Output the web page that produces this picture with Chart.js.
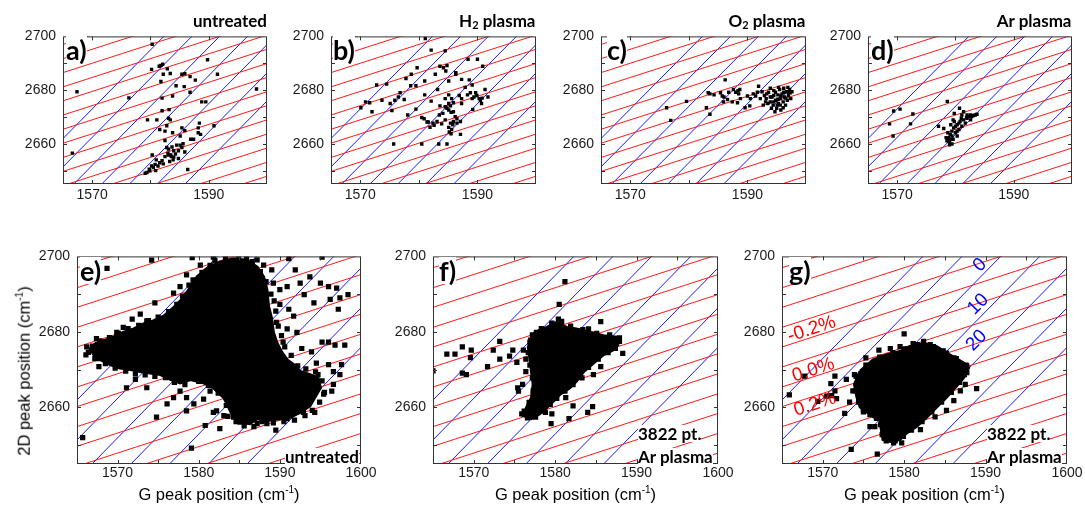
<!DOCTYPE html>
<html>
<head>
<meta charset="utf-8">
<script src="https://cdn.jsdelivr.net/npm/chart.js@4.4.1/dist/chart.umd.min.js"></script>
<style>
body { margin: 0; background: #fff; width: 1085px; height: 508px; position: relative; overflow: hidden; font-family: "Liberation Sans", Arial, sans-serif; }
canvas { position: absolute; }
.txt { position: absolute; white-space: nowrap; line-height: 1; color: #000; }
.bold { font-family: Lato, "Open Sans", sans-serif; font-weight: 700; }
.letter { font-size: 27px; background: #fff; }
.title { font-size: 17px; }
.note { font-size: 17px; background: #fff; }
.axis { font-size: 16.5px; }
sub { font-size: 11px; vertical-align: -2px; line-height: 0; }
sup { font-size: 10px; vertical-align: 7px; line-height: 0; }
</style>
</head>
<body>
<script>
// Strain / doping grid: red = iso-strain lines, blue = iso-doping lines
const redSlope = 0.7;
const redStrainAt1565 = [2697.0, 2691.7, 2686.5, 2681.2, 2676.0, 2670.7, 2665.4, 2660.2, 2654.9, 2649.7, 2644.4, 2639.1, 2633.9, 2628.6, 2623.4];
const blueSlope = 2.2;
const blueDopingAt2645 = [1557.3, 1562.1, 1566.85, 1571.65, 1576.4, 1581.2, 1585.95];

// Axis ticks
const gRange = [1565, 1600];
const dRange = [2645, 2700];
const topXLabels = [1570, 1590];
const topXMarks = [1570, 1580, 1590];
const bottomXLabels = [1570, 1580, 1590, 1600];
const bottomXMarks = [1570, 1575, 1580, 1585, 1590, 1595];
const yLabels = [2660, 2680, 2700];
const yMarks = [2650, 2660, 2670, 2680, 2690];

// Labels on the grid of panel g)
const strainLabels = ['-0.2%', '0.0%', '0.2%'];
const strainLabelG = [1568.65, 1568.85, 1569.05];
const strainLabel2D = [2680.7, 2669.9, 2660.8];
const dopingLabels = ['0', '10', '20'];
const dopingLabelG = [1589.3, 1589.1, 1588.9];
const dopingLabel2D = [2697.7, 2687.3, 2677.7];

// a) untreated  [G, 2D]
const ptsA = [[1580.3,2697.1],[1566.6,2656.5],[1567.4,2679.4],[1576.3,2677.1],[1580.2,2687.7],[1581.5,2688.9],[1581.8,2689.2],[1582.1,2689.6],[1582.9,2687.9],[1583.4,2686.2],[1582.2,2685.9],[1581.8,2683.2],[1582.0,2677.0],[1583.8,2677.8],[1584.4,2681.6],[1585.4,2685.9],[1585.9,2686.1],[1586.8,2685.0],[1587.7,2683.7],[1585.8,2681.3],[1586.8,2679.2],[1589.8,2691.3],[1591.5,2685.9],[1588.8,2675.6],[1589.5,2675.6],[1598.2,2680.4],[1590.9,2666.7],[1582.0,2672.3],[1583.2,2672.7],[1581.1,2668.9],[1579.5,2668.9],[1583.1,2669.5],[1583.4,2668.9],[1581.6,2665.3],[1582.5,2664.7],[1582.8,2666.7],[1583.8,2664.1],[1585.1,2662.9],[1585.4,2665.9],[1585.9,2664.9],[1586.9,2661.7],[1587.4,2661.7],[1588.2,2664.1],[1588.2,2665.9],[1588.4,2667.7],[1588.6,2663.5],
  [1582.5,2661.2],[1582.8,2658.6],[1583.1,2658.0],[1583.7,2658.8],[1584.0,2657.4],[1584.3,2656.2],[1584.5,2659.5],[1585.1,2659.5],[1585.4,2658.6],[1585.6,2660.0],[1584.8,2657.4],[1585.9,2656.9],[1584.0,2655.0],[1583.5,2655.8],[1583.0,2656.5],
  [1580.3,2655.8],[1581.0,2654.0],[1581.6,2652.9],[1580.8,2652.3],[1580.2,2651.7],[1579.8,2650.5],[1579.4,2649.3],[1579.9,2649.9],[1580.5,2651.1],[1581.3,2651.7],[1582.0,2653.7],[1582.5,2655.2],[1583.1,2655.8],[1583.6,2655.2],[1583.9,2654.0],[1583.3,2653.4],[1586.4,2650.4],[1579.1,2649.0],[1580.9,2650.0],[1582.2,2652.5],[1584.8,2654.5]];

// b) H2 plasma
const ptsB = [[1581.1,2699.2],[1579.7,2688.3],[1582.1,2694.9],[1584.5,2694.6],[1588.4,2691.5],[1590.0,2691.5],[1590.9,2688.9],[1583.6,2688.9],[1584.2,2688.3],[1584.8,2689.1],[1584.6,2687.1],[1582.8,2685.9],[1586.3,2685.9],[1586.3,2686.5],[1587.3,2684.0],[1585.1,2683.4],[1581.0,2683.4],[1578.7,2685.9],[1577.8,2684.3],[1578.6,2681.6],[1579.5,2681.6],[1574.5,2682.2],[1572.8,2681.9],[1576.8,2679.0],[1576.5,2677.4],[1577.5,2676.5],[1581.0,2678.2],[1582.1,2675.9],[1583.2,2680.2],[1584.5,2676.8],[1585.1,2678.2],[1585.6,2676.8],[1585.9,2675.3],[1586.9,2678.0],[1587.3,2676.8],[1588.3,2678.2],[1588.8,2679.0],[1589.1,2676.8],[1589.4,2677.4],[1589.7,2679.0],[1589.9,2678.0],[1590.3,2676.8],[1590.5,2676.2],[1590.8,2677.0],[1591.3,2680.2],[1591.8,2677.4],[1590.7,2675.0],[1589.2,2672.8],[1588.6,2683.8],[1589.1,2681.9],[1587.9,2681.0],[1587.3,2675.0],[1570.9,2675.6],[1570.1,2673.4],[1571.6,2675.3],[1572.0,2671.9],[1573.7,2676.2],[1575.9,2676.2],[1575.1,2675.0],[1575.4,2672.4],[1578.1,2670.7],[1579.5,2672.9],
  [1580.5,2669.8],[1580.9,2669.3],[1581.4,2668.1],[1581.6,2668.1],[1582.4,2667.7],[1582.6,2666.9],[1581.9,2666.1],[1583.1,2668.3],[1583.5,2670.7],[1584.1,2671.3],[1583.6,2674.1],[1584.5,2673.8],[1584.8,2673.2],[1585.1,2672.6],[1585.4,2674.1],[1585.1,2675.0],[1585.5,2671.7],[1585.9,2671.9],[1586.2,2670.1],[1586.5,2669.3],[1585.9,2668.3],[1585.4,2667.7],[1585.1,2666.1],[1585.6,2665.3],[1585.2,2664.4],[1585.5,2663.7],[1586.5,2667.7],[1587.1,2668.3],[1585.8,2667.1],[1584.5,2668.9],[1583.9,2667.4],
  [1575.7,2659.9],[1580.5,2659.9],[1583.4,2659.9],[1584.8,2659.9],[1587.1,2663.5]];

// c) O2 plasma
const ptsC = [[1576.2,2673.4],[1576.9,2668.7],[1579.6,2675.8],[1583.0,2673.4],[1583.6,2671.0],[1583.3,2679.0],[1583.6,2678.6],[1584.3,2678.2],[1586.2,2683.8],
  [1585.4,2679.0],[1585.7,2677.8],[1586.0,2677.4],[1585.9,2675.6],[1586.6,2676.5],[1586.8,2679.2],[1587.6,2680.2],[1588.0,2679.2],[1588.4,2679.8],[1588.7,2680.2],[1588.5,2678.6],[1587.4,2675.6],[1588.3,2675.3],[1588.8,2676.8],[1589.6,2673.4],[1590.4,2674.1],[1590.5,2676.8],[1590.0,2677.8],[1591.0,2678.6],[1591.4,2677.8],[1591.9,2681.4],[1591.7,2679.2],
  [1592.5,2679.4],[1592.9,2678.0],[1593.2,2676.8],[1593.6,2679.2],[1593.9,2675.6],[1594.2,2677.4],[1594.4,2674.4],[1594.5,2679.8],[1594.8,2676.2],[1595.0,2673.2],[1595.2,2678.2],[1595.3,2675.0],[1595.5,2680.2],[1595.6,2676.8],[1595.7,2672.6],[1595.9,2678.6],[1596.1,2675.6],[1596.2,2680.7],[1596.3,2677.4],[1596.5,2674.4],[1596.7,2679.4],[1596.8,2676.2],[1596.9,2681.0],[1597.0,2678.0],[1597.2,2680.2],[1597.3,2679.0],[1597.4,2676.8],[1597.6,2679.4],[1593.5,2675.0],[1594.1,2673.2],[1594.7,2671.9],[1595.1,2674.4],[1593.9,2680.7],[1593.1,2675.6],[1592.2,2676.8],[1592.7,2674.4],[1594.5,2678.0],[1596.1,2673.4],[1595.3,2681.0],
  [1594.8,2679.2],[1595.2,2676.6],[1595.7,2677.8],[1596.5,2677.0],[1597.0,2679.2],[1593.9,2677.4],[1594.5,2675.6],[1595.6,2674.4],[1596.2,2679.2],[1593.3,2678.6]];

// d) Ar plasma
const ptsD = [[1568.7,2667.4],[1569.4,2672.2],[1570.5,2672.9],[1569.3,2662.9],[1572.3,2667.4],[1572.7,2671.1],[1577.1,2666.5],[1578.6,2675.8],[1578.0,2665.7],
  [1578.55,2661.1],[1578.8,2662.3],[1579.1,2663.5],[1579.0,2660.5],[1579.4,2664.7],[1579.7,2665.9],[1579.6,2661.7],[1580.0,2664.1],[1580.3,2667.1],[1580.6,2665.3],[1580.3,2662.9],[1580.8,2668.3],[1581.1,2666.5],[1581.4,2668.9],[1581.7,2667.7],[1582.0,2669.5],[1582.3,2670.1],[1582.6,2668.9],[1582.8,2670.1],[1583.1,2670.5],[1583.4,2670.7],[1583.7,2671.0],[1579.8,2671.3],[1580.7,2673.2],[1581.4,2671.9],[1582.0,2670.7],[1581.1,2670.7],[1579.6,2668.9],[1579.2,2667.1],[1578.7,2664.1],[1578.4,2662.3],[1579.0,2659.6],[1579.4,2659.9],[1581.0,2669.5],[1581.9,2669.8],[1582.6,2670.7],[1579.8,2668.3],
  [1579.1,2661.7],[1580.0,2666.5],[1580.6,2667.7],[1578.8,2661.1],[1580.3,2664.7],[1579.4,2662.9]];

// e) untreated map: dense core outline, its ragged edge, scattered points
const blobE = [[1578.5,2690.3],[1579.8,2694.6],[1581.0,2696.8],[1582.6,2698.5],[1584.3,2699.4],[1585.9,2699.0],[1587.2,2697.2],[1588.0,2694.6],[1588.4,2691.2],[1588.6,2686.8],[1589.0,2683.4],[1589.2,2679.9],[1589.6,2677.3],[1590.2,2674.7],[1590.9,2672.6],[1591.7,2671.3],[1592.5,2669.5],[1593.7,2668.7],[1594.7,2667.8],[1595.0,2665.2],[1594.3,2662.6],[1593.7,2660.4],[1592.5,2658.7],[1591.3,2657.4],[1590.0,2657.0],[1588.4,2656.5],[1587.2,2657.0],[1586.3,2655.7],[1585.1,2656.1],[1584.3,2657.4],[1583.9,2659.1],[1583.1,2662.6],[1581.8,2665.2],[1580.6,2666.5],[1579.0,2667.4],[1577.7,2666.5],[1576.5,2667.4],[1575.3,2668.7],[1574.0,2669.1],[1572.8,2669.5],[1571.6,2670.0],[1570.3,2670.4],[1569.1,2671.3],[1567.9,2672.6],[1567.1,2673.9],[1566.6,2675.6],[1567.3,2676.9],[1568.3,2677.7],[1569.5,2678.6],[1570.7,2679.9],[1572.0,2680.8],[1573.2,2682.1],[1574.4,2682.9],[1575.7,2684.2],[1576.9,2686.4],[1577.9,2688.6]];
const edgeE = [[1578.0,2689.5],[1578.8,2692.4],[1579.3,2693.8],[1580.4,2695.8],[1581.4,2697.6],[1582.0,2698.9],[1583.3,2699.6],[1584.9,2699.7],[1586.6,2698.6],[1587.6,2696.0],[1588.3,2693.3],[1588.9,2690.0],[1589.3,2688.2],[1589.5,2685.5],[1589.8,2681.5],[1590.2,2679.0],[1590.6,2676.0],[1591.4,2673.8],[1592.2,2671.0],[1593.2,2670.2],[1594.4,2669.4],[1595.2,2667.0],[1595.5,2664.0],[1594.9,2661.4],[1594.0,2659.2],[1593.1,2657.8],[1591.8,2656.6],[1590.5,2656.2],[1589.2,2655.9],[1587.8,2656.2],[1586.8,2654.9],[1585.6,2655.1],[1584.6,2656.2],[1583.6,2657.6],[1583.4,2660.5],[1582.4,2663.8],[1581.2,2665.8],[1580.0,2666.9],[1578.3,2666.0],[1577.0,2666.6],[1575.9,2667.9],[1574.6,2668.2],[1573.4,2668.6],[1572.2,2668.9],[1571.0,2669.6],[1569.7,2670.4],[1568.5,2671.6],[1567.5,2672.9],[1566.4,2674.6],[1566.9,2676.2],[1567.8,2677.6],[1569.0,2678.5],[1570.1,2679.6],[1571.3,2680.9],[1572.6,2681.7],[1573.8,2683.0],[1575.0,2683.9],[1576.3,2685.4],[1577.3,2687.3]];
const ptsE = [[1565.7,2652.0],[1579.1,2649.2],[1589.5,2654.0],[1580.8,2655.2],[1566.1,2673.9],[1566.2,2676.0],[1567.2,2673.0],[1567.7,2670.8],[1567.4,2678.2],[1568.3,2677.3],[1569.9,2679.9],[1570.7,2681.2],[1571.8,2683.4],[1572.8,2684.7],[1573.6,2682.9],[1574.6,2687.7],[1574.2,2699.0],[1568.7,2696.8],[1571.1,2665.2],[1572.2,2667.4],[1573.6,2665.2],[1574.8,2657.4],[1576.1,2660.9],[1576.9,2662.6],[1577.7,2664.3],[1578.5,2662.6],[1579.4,2660.9],[1578.5,2659.1],[1580.6,2662.2],[1581.4,2664.3],[1582.2,2659.1],
  [1576.9,2690.3],[1577.7,2692.0],[1578.5,2695.1],[1579.2,2699.7],[1580.2,2697.7],[1581.8,2699.8],[1585.9,2699.7],[1587.2,2699.1],[1588.0,2697.7],[1589.0,2696.4],[1589.2,2692.9],[1590.0,2691.2],[1590.9,2692.0],[1591.1,2699.4],[1591.9,2696.4],[1592.5,2692.9],[1593.0,2689.9],[1593.7,2694.6],[1594.2,2687.7],[1595.0,2692.9],[1595.2,2699.8],[1596.0,2692.0],[1596.2,2688.6],[1597.0,2691.6],[1597.2,2686.0],[1597.4,2689.0],[1598.4,2689.9],[1591.1,2686.0],[1591.7,2684.2],[1590.9,2680.8],[1592.1,2679.9],[1592.7,2675.6],[1595.2,2677.3],[1596.0,2677.3],[1596.8,2676.5],[1598.0,2676.5],[1596.0,2671.3],[1596.6,2669.5],[1597.6,2671.3],[1597.4,2668.7],[1596.6,2666.1],[1595.4,2663.5],[1596.4,2664.3],[1594.3,2658.7],[1592.9,2658.7],[1590.9,2657.0],[1591.5,2661.3],[1590.0,2660.0],[1588.4,2655.7],[1587.2,2655.7],[1585.1,2656.1],[1584.3,2657.4],[1583.1,2657.8],[1582.6,2654.4],[1583.9,2660.9],[1581.8,2658.7],[1594.5,2671.7],[1593.9,2674.7],[1594.7,2668.7],[1589.6,2682.5],[1590.4,2677.3],[1590.0,2687.3]];

// f) Ar plasma map
const blobF = [[1577.5,2679.9],[1579.0,2681.2],[1580.2,2682.5],[1581.4,2681.2],[1582.6,2680.8],[1584.3,2679.9],[1585.9,2679.0],[1587.5,2678.6],[1587.7,2676.5],[1587.1,2675.2],[1585.9,2673.9],[1584.7,2671.7],[1583.5,2669.5],[1582.6,2666.9],[1581.8,2665.2],[1580.6,2663.5],[1579.8,2661.7],[1579.0,2660.0],[1578.1,2658.3],[1577.1,2657.0],[1576.1,2657.8],[1576.5,2660.0],[1577.1,2662.6],[1577.3,2666.1],[1577.1,2669.5],[1576.9,2673.0],[1576.7,2676.0]];
const edgeF = [[1577.2,2679.2],[1578.3,2680.9],[1579.6,2682.0],[1580.8,2682.8],[1581.9,2681.5],[1583.4,2680.6],[1585.1,2679.6],[1586.7,2679.2],[1587.9,2677.5],[1587.4,2675.6],[1586.5,2674.5],[1585.3,2672.8],[1584.1,2670.6],[1583.0,2668.1],[1582.2,2666.0],[1581.2,2664.3],[1580.2,2662.4],[1579.4,2660.8],[1578.6,2659.1],[1577.6,2657.4],[1576.6,2657.2],[1576.2,2659.0],[1576.8,2661.3],[1577.3,2664.4],[1577.2,2667.8],[1576.9,2671.2],[1576.7,2674.5],[1577.0,2677.8]];
const ptsF = [[1565.0,2669.7],[1566.7,2674.1],[1567.7,2674.1],[1568.6,2676.0],[1568.6,2669.1],[1569.1,2668.7],[1569.7,2675.2],[1569.6,2673.2],[1571.7,2670.8],[1572.4,2675.2],[1573.2,2677.5],[1573.2,2672.8],[1574.4,2673.6],[1574.8,2675.2],[1575.3,2671.9],[1575.4,2665.2],[1575.5,2664.3],[1576.0,2666.1],[1576.1,2675.2],[1576.4,2672.8],[1576.4,2669.5],[1575.9,2658.3],[1576.9,2677.3],[1577.7,2679.9],[1581.2,2693.3],[1580.5,2687.3],[1579.6,2658.3],[1579.5,2655.7],[1582.2,2660.4],[1581.7,2657.0],[1584.0,2658.7],[1584.6,2660.2],[1585.6,2682.7],[1584.1,2680.8],[1585.6,2670.8],[1588.3,2674.3],[1586.9,2677.7],[1587.9,2678.4],[1584.7,2668.7],[1583.3,2667.8],[1581.3,2662.6],[1578.8,2658.7],[1577.5,2657.8],[1576.7,2657.8],[1580.4,2683.4],[1579.6,2682.3]];

// g) Ar plasma map (same data, with grid labels)
const blobG = [[1574.6,2669.6],[1576.2,2672.6],[1577.8,2673.9],[1579.5,2674.8],[1580.7,2676.1],[1582.4,2676.9],[1584.0,2676.1],[1585.6,2673.9],[1587.3,2671.8],[1587.9,2670.5],[1587.3,2667.9],[1586.3,2665.3],[1585.2,2662.7],[1584.0,2660.1],[1582.8,2657.5],[1581.5,2654.9],[1580.3,2653.2],[1579.5,2651.5],[1578.3,2651.0],[1577.4,2651.5],[1577.2,2654.1],[1577.0,2656.7],[1576.2,2657.5],[1575.4,2658.8],[1574.6,2660.1],[1574.2,2662.7],[1573.9,2666.1]];
const edgeG = [[1574.1,2668.2],[1575.3,2671.2],[1577.0,2673.3],[1578.6,2674.5],[1580.1,2675.5],[1581.6,2676.6],[1583.2,2676.6],[1584.8,2675.0],[1586.4,2672.9],[1587.6,2671.2],[1587.7,2669.2],[1586.8,2666.6],[1585.8,2664.0],[1584.6,2661.4],[1583.4,2658.8],[1582.2,2656.2],[1580.9,2654.0],[1579.9,2652.3],[1578.9,2651.1],[1577.8,2651.1],[1577.3,2652.8],[1577.1,2655.4],[1576.6,2657.1],[1575.8,2658.1],[1575.0,2659.4],[1574.4,2661.4],[1574.0,2664.4]];
const ptsG = [[1565.9,2663.3],[1567.8,2668.3],[1569.4,2661.6],[1570.5,2663.0],[1571.0,2666.3],[1571.1,2663.1],[1571.5,2664.4],[1571.5,2668.3],[1571.7,2662.3],[1572.7,2658.4],[1573.5,2648.9],[1573.9,2668.7],[1572.9,2667.4],[1573.3,2661.4],[1573.7,2664.4],[1575.0,2658.8],[1575.3,2673.1],[1575.8,2654.9],[1576.4,2654.9],[1576.7,2647.6],[1576.9,2675.2],[1578.3,2675.6],[1579.5,2676.1],[1580.0,2679.5],[1581.1,2676.9],[1582.4,2677.5],[1583.6,2676.1],[1585.2,2674.4],[1586.1,2673.1],[1586.5,2671.8],[1587.7,2670.9],[1587.4,2668.7],[1588.9,2665.0],[1587.5,2666.1],[1586.9,2664.4],[1586.1,2661.8],[1585.2,2659.2],[1583.8,2657.5],[1582.0,2654.1],[1580.7,2654.9],[1577.8,2652.3],[1578.7,2650.6],[1579.7,2650.6],[1576.6,2666.6],[1576.0,2664.4],[1575.0,2665.3],[1574.6,2662.7],[1575.4,2661.0]];

const tickFont = { family: '"Liberation Sans", Arial, sans-serif', size: 14 };

// inward tick marks, box and the rotated grid labels
const framePlugin = {
    id: 'frame',
    afterDatasetsDraw(chart, args, opts) {
        const { ctx, chartArea: a, scales: { x, y } } = chart;
        ctx.save();
        ctx.strokeStyle = '#333';
        ctx.lineWidth = 1;
        ctx.strokeRect(a.left + 0.5, a.top + 0.5, a.right - a.left - 1, a.bottom - a.top - 1);
        ctx.beginPath();
        opts.xMarks.forEach(v => {
            const px = Math.round(x.getPixelForValue(v)) + 0.5;
            ctx.moveTo(px, a.bottom); ctx.lineTo(px, a.bottom - 4);
            ctx.moveTo(px, a.top); ctx.lineTo(px, a.top + 4);
        });
        opts.yMarks.forEach(v => {
            const py = Math.round(y.getPixelForValue(v)) + 0.5;
            ctx.moveTo(a.left, py); ctx.lineTo(a.left + 4, py);
            ctx.moveTo(a.right, py); ctx.lineTo(a.right - 4, py);
        });
        ctx.stroke();
        if (opts.gridLabels) {
            const pxPerG = x.getPixelForValue(1) - x.getPixelForValue(0);
            const pxPer2D = y.getPixelForValue(0) - y.getPixelForValue(1);
            const drawSet = (texts, gs, ds, slope, color) => {
                const ang = -Math.atan(slope * pxPer2D / pxPerG);
                texts.forEach((t, i) => {
                    ctx.save();
                    ctx.translate(x.getPixelForValue(gs[i]), y.getPixelForValue(ds[i]));
                    ctx.rotate(ang);
                    ctx.fillStyle = color;
                    ctx.font = '19px "Liberation Sans", Arial, sans-serif';
                    ctx.textAlign = 'center';
                    ctx.textBaseline = 'middle';
                    ctx.fillText(t, 0, 0);
                    ctx.restore();
                });
            };
            drawSet(strainLabels, strainLabelG, strainLabel2D, redSlope, '#ff0000');
            drawSet(dopingLabels, dopingLabelG, dopingLabel2D, blueSlope, '#0000ff');
        }
        ctx.restore();
    }
};

function gridSets() {
    const sets = [];
    redStrainAt1565.forEach(r => sets.push({
        data: [1555, 1610].map(g => ({ x: g, y: r + redSlope * (g - 1565) })),
        showLine: true, borderColor: '#ff1a1a', borderWidth: 1, pointRadius: 0, order: 3
    }));
    blueDopingAt2645.forEach(g0 => sets.push({
        data: [2630, 2715].map(d => ({ x: g0 + (d - 2645) / blueSlope, y: d })),
        showLine: true, borderColor: '#1a1aff', borderWidth: 1, pointRadius: 0, order: 3
    }));
    return sets;
}

function makePanel(p) {
    const padL = 60, padT = 12, padR = 30;
    const cw = padL + p.w + padR, ch = padT + p.h + p.padB;
    const cv = document.createElement('canvas');
    cv.width = cw; cv.height = ch;
    cv.style.left = (p.left - padL) + 'px';
    cv.style.top = (p.top - padT) + 'px';
    cv.style.width = cw + 'px';
    cv.style.height = ch + 'px';
    document.body.appendChild(cv);

    const datasets = gridSets();
    if (p.blob) {
        const shape = p.blob.concat([p.blob[0]]).map(q => ({ x: q[0], y: q[1] }));
        datasets.push({ data: shape, showLine: true, fill: 'shape', backgroundColor: '#000', borderColor: '#000', borderWidth: 3, pointRadius: 0, order: 2 });
    }
    const pts = p.edge ? p.pts.concat(p.edge) : p.pts;
    datasets.push({
        data: pts.map(q => ({ x: q[0], y: q[1] })),
        pointStyle: 'rect', pointRadius: p.r, pointBackgroundColor: '#000', pointBorderWidth: 0, order: 1
    });

    new Chart(cv, {
        type: 'scatter',
        data: { datasets },
        options: {
            responsive: false, animation: false, events: [],
            layout: { padding: { left: 0, top: padT, right: padR, bottom: 0 } },
            plugins: {
                legend: { display: false }, tooltip: { enabled: false },
                frame: { xMarks: p.xMarks, yMarks: yMarks, gridLabels: p.gridLabels }
            },
            scales: {
                x: {
                    type: 'linear', min: gRange[0], max: gRange[1],
                    border: { display: false }, grid: { display: false, drawTicks: false },
                    afterBuildTicks: s => { s.ticks = p.xLabels.map(v => ({ value: v })); },
                    afterFit: s => { s.height = p.padB; },
                    ticks: { padding: p.xPad, maxRotation: 0, autoSkip: false, color: '#1a1a1a', font: tickFont, callback: v => String(v) }
                },
                y: {
                    type: 'linear', min: dRange[0], max: dRange[1],
                    border: { display: false }, grid: { display: false, drawTicks: false },
                    afterBuildTicks: s => { s.ticks = yLabels.map(v => ({ value: v })); },
                    afterFit: s => { s.width = padL; },
                    ticks: { padding: 7, color: '#1a1a1a', font: tickFont, callback: v => String(v) }
                }
            }
        },
        plugins: [framePlugin]
    });
}

const panels = [
    { left: 63, top: 33, w: 204, h: 151, pts: ptsA, r: 2.4, xLabels: topXLabels, xMarks: topXMarks, xPad: 3, padB: 25 },
    { left: 331, top: 33, w: 205, h: 151, pts: ptsB, r: 2.4, xLabels: topXLabels, xMarks: topXMarks, xPad: 3, padB: 25 },
    { left: 601, top: 33, w: 205, h: 151, pts: ptsC, r: 2.4, xLabels: topXLabels, xMarks: topXMarks, xPad: 3, padB: 25 },
    { left: 868, top: 33, w: 204, h: 151, pts: ptsD, r: 2.4, xLabels: topXLabels, xMarks: topXMarks, xPad: 3, padB: 25 },
    { left: 77, top: 253, w: 284, h: 211, pts: ptsE, edge: edgeE, blob: blobE, r: 3.7, xLabels: bottomXLabels, xMarks: bottomXMarks, xPad: 1, padB: 24 },
    { left: 433, top: 253, w: 285, h: 211, pts: ptsF, edge: edgeF, blob: blobF, r: 3.7, xLabels: bottomXLabels, xMarks: bottomXMarks, xPad: 1, padB: 24 },
    { left: 782, top: 253, w: 285, h: 211, pts: ptsG, edge: edgeG, blob: blobG, r: 3.7, xLabels: bottomXLabels, xMarks: bottomXMarks, xPad: 1, padB: 24, gridLabels: true }
];
panels.forEach(makePanel);

// text overlays
function addText(html, x, y, cls, align) {
    const d = document.createElement('div');
    d.className = 'txt ' + cls;
    d.innerHTML = html;
    d.style.left = x + 'px';
    d.style.top = y + 'px';
    if (align === 'right') d.style.transform = 'translateX(-100%)';
    if (align === 'center') d.style.transform = 'translateX(-50%)';
    document.body.appendChild(d);
    return d;
}

addText('untreated', 267, 11.6, 'bold title', 'right');
addText('H<sub>2</sub> plasma', 535.5, 11.6, 'bold title', 'right');
addText('O<sub>2</sub> plasma', 805.5, 11.6, 'bold title', 'right');
addText('Ar plasma', 1071.5, 11.6, 'bold title', 'right');

addText('a)', 66, 35.5, 'bold letter');
addText('b)', 333, 35.5, 'bold letter');
addText('c)', 607, 35.5, 'bold letter');
addText('d)', 871, 35.5, 'bold letter');
addText('e)', 80, 257, 'bold letter');
addText('f)', 439, 257, 'bold letter');
addText('g)', 789, 257, 'bold letter');

addText('untreated', 359, 448, 'bold note', 'right');
addText('3822 pt.', 638, 425, 'bold note');
addText('Ar plasma', 638, 448, 'bold note');
addText('3822 pt.', 987, 425, 'bold note');
addText('Ar plasma', 987, 448, 'bold note');

const xt = 'G peak position (cm<sup>-1</sup>)';
addText(xt, 219, 485.5, 'axis', 'center');
addText(xt, 575.5, 485.5, 'axis', 'center');
addText(xt, 924.5, 485.5, 'axis', 'center');

const yt = addText('2D peak position (cm<sup>-1</sup>)', 24.3, 371, 'axis');
yt.style.transform = 'translate(-50%, -50%) rotate(-90deg)';
</script>
</body>
</html>
